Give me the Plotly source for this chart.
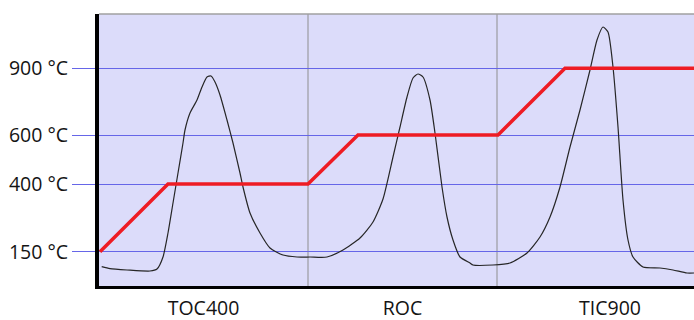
import numpy as np
import plotly.graph_objects as go

# ---- data ----
PHASES = ["TOC400", "ROC", "TIC900"]
PHASE_BOUNDS = [0, 209, 398, 624]          # time (a.u.) where phases change

TEMP_TICKS = [150, 400, 600, 900]
TEMP_TICK_LABELS = ["150 °C", "400 °C", "600 °C", "900 °C"]
TEMP_TICK_LEVELS = [34.3, 102, 151, 217.7]  # schematic (non-linear) display scale

PROG_TIME = [1, 69, 209, 259, 399, 466, 595]
PROG_TEMP = [150, 400, 400, 600, 600, 900, 900]

SIG_TIME = [2.7, 11, 28, 51, 58, 64, 69, 74, 79, 84, 86, 91, 98, 103, 108, 112, 116, 121,
            128, 134, 141, 144, 151, 161, 171, 184, 198, 211, 228, 244, 261, 274, 284,
            294, 301, 308, 314, 319, 324, 331, 336, 343, 348, 354, 361, 371, 374, 394,
            411, 428, 441, 451, 461, 471, 481, 491, 498, 504, 509, 514, 519, 524, 529,
            534, 544, 561, 574, 588, 595]
SIG_VALUE = [19.3, 17.3, 16, 15, 17, 29, 53, 83, 113, 143, 156, 173, 186, 199, 209, 210,
             204, 191, 166, 143, 113, 99, 73, 53, 38, 31, 29, 29, 29, 36, 48, 64, 87, 129,
             159, 189, 208, 212, 209, 186, 153, 99, 69, 46, 29, 23, 21, 21, 23, 33, 49,
             69, 99, 139, 176, 216, 246, 259, 254, 219, 159, 86, 46, 29, 19, 18, 16, 13, 13]

prog_level = np.interp(PROG_TEMP, TEMP_TICKS, TEMP_TICK_LEVELS)
tick_level = np.interp(TEMP_TICKS, TEMP_TICKS, TEMP_TICK_LEVELS)
phase_mid = [(a + b) / 2 for a, b in zip(PHASE_BOUNDS[:-1], PHASE_BOUNDS[1:])]

fig = go.Figure()
fig.add_trace(go.Scatter(x=SIG_TIME, y=SIG_VALUE, mode="lines",
                         line=dict(color="#262626", width=1.2, shape="spline", smoothing=0.6),
                         hoverinfo="skip", showlegend=False))
fig.add_trace(go.Scatter(x=PROG_TIME, y=prog_level, mode="lines",
                         line=dict(color="#ee1c24", width=3.5),
                         hoverinfo="skip", showlegend=False))

shapes = []
for b in PHASE_BOUNDS[1:-1]:
    shapes.append(dict(type="line", xref="x", yref="paper", x0=b, x1=b, y0=0, y1=1,
                       line=dict(color="#8e8e8e", width=1), layer="below"))
shapes.append(dict(type="line", xref="paper", yref="paper", x0=0, x1=1, y0=1, y1=1,
                   line=dict(color="#a0a0a0", width=1.5)))

fig.update_layout(
    width=694, height=320,
    margin=dict(l=99, r=0, t=14, b=34),
    paper_bgcolor="white",
    plot_bgcolor="#dcdcfa",
    font=dict(family="Open Sans", size=19.5, color="#141414"),
    shapes=shapes,
    xaxis=dict(range=[0, 595], tickmode="array", tickvals=phase_mid, ticktext=PHASES,
               showgrid=False, zeroline=False, ticks="", showline=True,
               ticklabelstandoff=3,
               linecolor="black", linewidth=3, fixedrange=True),
    yaxis=dict(range=[0, 272], tickmode="array", tickvals=tick_level, ticktext=TEMP_TICK_LABELS,
               showgrid=True, gridcolor="#6666e8", gridwidth=1, zeroline=False,
               ticks="outside", ticklen=23, tickcolor="#6666e8", tickwidth=1,
               showline=True, linecolor="black", linewidth=4, fixedrange=True),
)

fig.write_html("out.html")
